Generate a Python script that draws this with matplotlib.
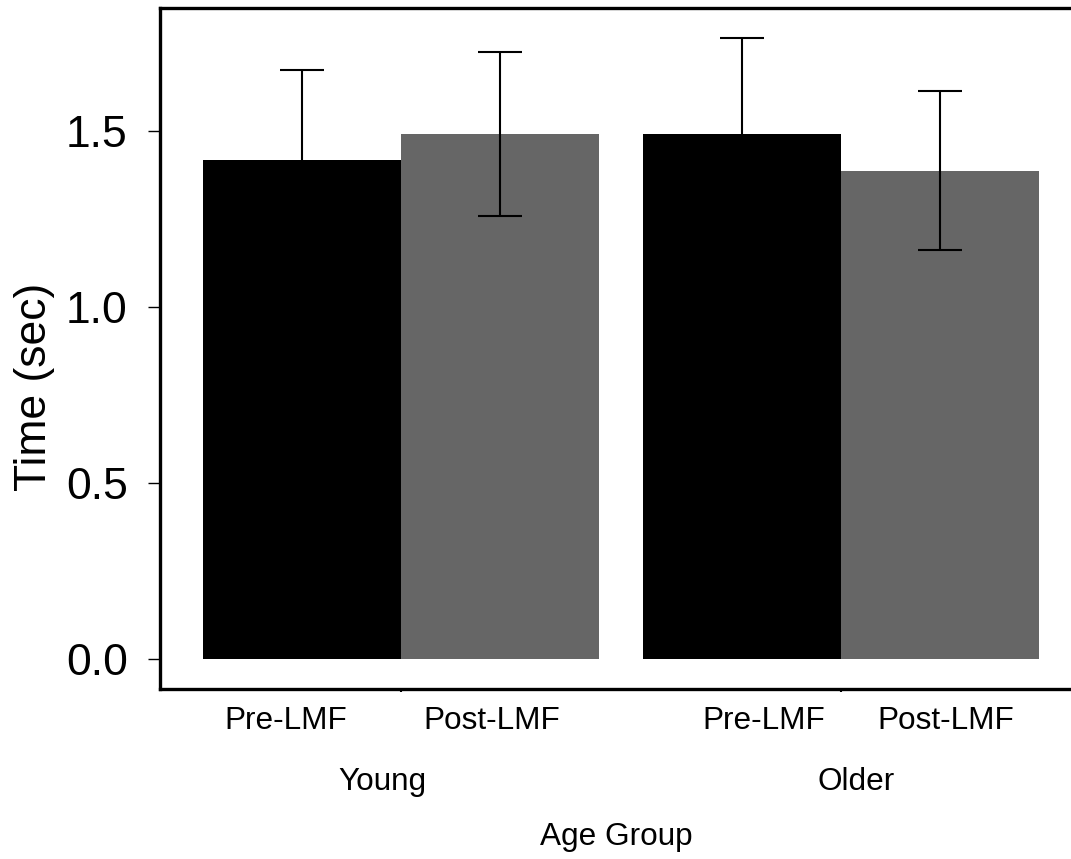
import numpy as np
import matplotlib
matplotlib.use("Agg")
import matplotlib.pyplot as plt
import matplotlib.transforms as mtransforms

plt.rcParams['font.family'] = ['Liberation Sans', 'DejaVu Sans']

# mean completion time and error, per age group and condition
groups = ['Young', 'Older']
conditions = ['Pre-LMF', 'Post-LMF']
mean_time = [[1.418, 1.491],   # Young
             [1.491, 1.386]]   # Older
err_time = [[0.253, 0.233],
            [0.273, 0.226]]

cond_colors = ['#000000', '#666666']

fig = plt.figure(figsize=(10.71, 8.59), dpi=100)
ax = fig.add_axes([0.149, 0.198, 0.851, 0.793])

bar_w = 1.0
group_gap = 0.222
group_starts = np.arange(len(groups)) * (len(conditions) * bar_w + group_gap)

for gi, g0 in enumerate(group_starts):
    for ci in range(len(conditions)):
        x = g0 + ci * bar_w
        ax.bar(x, mean_time[gi][ci], width=bar_w, color=cond_colors[ci],
               edgecolor='none', zorder=2)
        ax.errorbar(x, mean_time[gi][ci], yerr=err_time[gi][ci], fmt='none',
                    ecolor='black', elinewidth=1.5, capsize=15.5,
                    capthick=1.5, zorder=3)

ax.set_xlim(-0.717, 3.886)
ax.set_ylim(-0.0852, 1.849)

# axes frame: left, bottom and top lines only
for side in ['left', 'bottom', 'top']:
    ax.spines[side].set_linewidth(2.4)
ax.spines['right'].set_visible(False)

ax.set_yticks([0.0, 0.5, 1.0, 1.5])
ax.set_yticklabels(['0.0', '0.5', '1.0', '1.5'], fontsize=32)
ax.tick_params(axis='y', direction='out', length=9, width=1.0, pad=14)

group_centers = group_starts + bar_w * (len(conditions) - 1) / 2
ax.set_xticks(group_centers)
ax.set_xticklabels([])
ax.tick_params(axis='x', direction='out', length=2.5, width=1.5)

# condition / group / axis-title labels under the axis
trans = mtransforms.blended_transform_factory(ax.transData, ax.transAxes)
cond_offsets = [[-0.08, -0.04], [0.11, 0.03]]
for gi, g0 in enumerate(group_starts):
    for ci, name in enumerate(conditions):
        ax.text(g0 + ci * bar_w + cond_offsets[gi][ci], -0.047, name,
                transform=trans, ha='center', va='center', fontsize=22.7)
group_offsets = [-0.093, 0.078]
for gi, name in enumerate(groups):
    ax.text(group_centers[gi] + group_offsets[gi], -0.1366, name,
            transform=trans, ha='center', va='center', fontsize=22.7)
ax.text(1.588, -0.2173, 'Age Group', transform=trans,
        ha='center', va='center', fontsize=22.7)

ax.text(-0.1377, 0.4435, 'Time (sec)', transform=ax.transAxes,
        rotation=90, ha='center', va='center', fontsize=32)

fig.savefig('out.png', dpi=100, facecolor='white')
